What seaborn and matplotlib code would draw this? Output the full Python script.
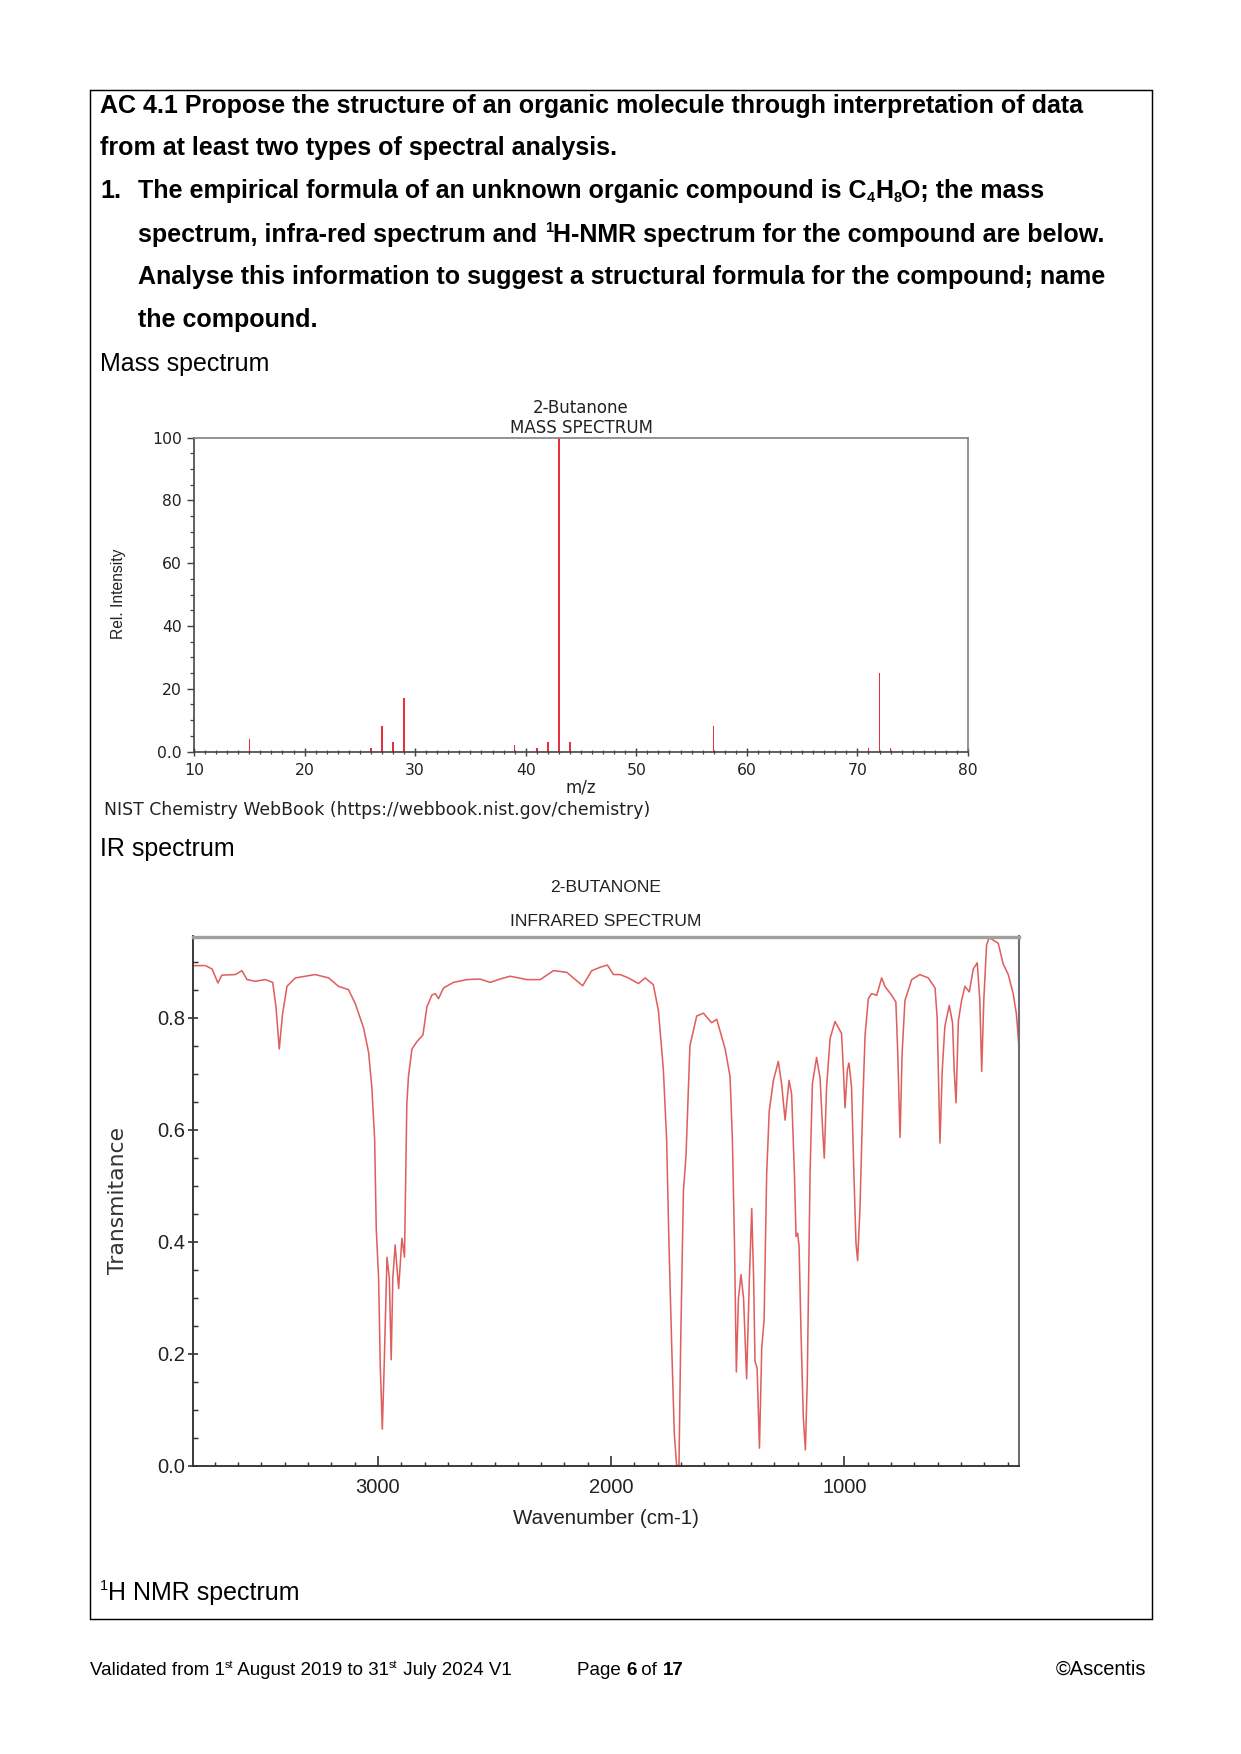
import matplotlib
matplotlib.use("Agg")
import matplotlib.pyplot as plt
import matplotlib.font_manager as fm
from matplotlib.patches import Rectangle
from matplotlib.ticker import MultipleLocator
import pandas as pd
import seaborn as sns

# ---------------- data ----------------
ms_mz = [15, 26, 27, 28, 29, 39, 41, 42, 43, 44, 57, 71, 72, 73]
ms_intensity = [4, 1, 8, 3, 17, 2, 1, 3, 100, 3, 8, 1, 25, 1]
ms_xticks = [10, 20, 30, 40, 50, 60, 70, 80]
ms_xticklabels = ["10", "20", "30", "40", "50", "60", "70", "80"]
ms_yticks = [0, 20, 40, 60, 80, 100]
ms_yticklabels = ["0.0", "20", "40", "60", "80", "100"]

ir_wavenumber = [
    3794, 3740, 3711, 3686, 3669, 3611, 3583, 3561, 3526, 3483, 3451, 3437, 3423, 3409,
    3390, 3354, 3269, 3211, 3169, 3126, 3097, 3061, 3040, 3026, 3014, 3007, 2997, 2990,
    2981, 2973, 2961, 2951, 2943, 2936, 2926, 2911, 2897, 2886, 2876, 2869, 2854, 2833,
    2807, 2790, 2769, 2754, 2740, 2719, 2676, 2619, 2562, 2519, 2476, 2433, 2361, 2304,
    2247, 2190, 2162, 2122, 2083, 2047, 2016, 1990, 1961, 1926, 1883, 1854, 1819, 1797,
    1776, 1762, 1752, 1740, 1729, 1719, 1709, 1702, 1690, 1679, 1662, 1633, 1604, 1569,
    1547, 1511, 1490, 1480, 1471, 1463, 1454, 1443, 1432, 1419, 1407, 1397, 1389, 1383,
    1374, 1364, 1354, 1344, 1333, 1322, 1304, 1283, 1269, 1254, 1237, 1226, 1214, 1207,
    1200, 1194, 1186, 1176, 1167, 1159, 1147, 1137, 1119, 1104, 1094, 1086, 1076, 1061,
    1040, 1012, 1004, 997, 987, 980, 969, 959, 950, 943, 933, 921, 911, 897, 883, 861,
    840, 826, 797, 779, 771, 761, 752, 740, 711, 676, 640, 611, 602, 590, 580, 569, 550,
    536, 529, 521, 511, 497, 483, 464, 447, 430, 419, 411, 402, 390, 379, 340, 319, 297,
    276, 262, 251]
ir_transmittance = [
    0.893, 0.893, 0.887, 0.862, 0.876, 0.877, 0.884, 0.868, 0.865, 0.868, 0.863, 0.819, 0.744, 0.806,
    0.856, 0.871, 0.877, 0.871, 0.856, 0.850, 0.825, 0.781, 0.738, 0.676, 0.583, 0.422, 0.335, 0.180,
    0.065, 0.180, 0.372, 0.335, 0.189, 0.335, 0.394, 0.316, 0.406, 0.372, 0.645, 0.695, 0.744, 0.757,
    0.769, 0.819, 0.840, 0.843, 0.834, 0.853, 0.863, 0.868, 0.869, 0.863, 0.869, 0.874, 0.868, 0.868,
    0.884, 0.881, 0.871, 0.857, 0.884, 0.890, 0.894, 0.877, 0.877, 0.871, 0.861, 0.871, 0.859, 0.812,
    0.707, 0.583, 0.397, 0.211, 0.056, 0.0, 0.0, 0.211, 0.490, 0.552, 0.750, 0.803, 0.808, 0.791,
    0.797, 0.744, 0.695, 0.583, 0.397, 0.167, 0.298, 0.341, 0.298, 0.155, 0.335, 0.459, 0.335, 0.186,
    0.174, 0.031, 0.211, 0.260, 0.521, 0.633, 0.688, 0.722, 0.682, 0.617, 0.688, 0.664, 0.521, 0.409,
    0.415, 0.391, 0.242, 0.087, 0.028, 0.149, 0.521, 0.682, 0.729, 0.692, 0.608, 0.549, 0.676, 0.763,
    0.793, 0.772, 0.707, 0.639, 0.707, 0.719, 0.676, 0.521, 0.397, 0.366, 0.459, 0.645, 0.769, 0.834, 0.843, 0.840,
    0.871, 0.856, 0.840, 0.828, 0.738, 0.586, 0.738, 0.831, 0.868, 0.877, 0.871, 0.853, 0.800, 0.576, 0.707, 0.784, 0.822,
    0.791, 0.707, 0.648, 0.794, 0.831, 0.856, 0.846, 0.887, 0.898, 0.831, 0.704, 0.831, 0.930, 0.943, 0.933, 0.896, 0.877,
    0.843, 0.806, 0.747]
ir_xticks = [1000, 2000, 3000]
ir_xticklabels = ["1000", "2000", "3000"]
ir_yticks = [0.0, 0.2, 0.4, 0.6, 0.8]
ir_yticklabels = ["0.0", "0.2", "0.4", "0.6", "0.8"]

# ---------------- setup ----------------
sns.set_theme(style="white")
BODY = ["Liberation Sans", "DejaVu Sans"]
plt.rcParams["font.family"] = BODY

names = {f.name for f in fm.fontManager.ttflist}
if "Liberation Sans Narrow" in names:
    NARROW = ["Liberation Sans Narrow", "DejaVu Sans"]
    k = 1.0
else:
    NARROW = ["Liberation Sans", "DejaVu Sans"]
    k = 0.84
WIDE = ["DejaVu Sans"]

W, H, DPI = 1241, 1754, 150
fig = plt.figure(figsize=(W / DPI, H / DPI), dpi=DPI)
fig.patch.set_facecolor("white")
PT = DPI / 72.0


def fx(x):
    return x / W


def fy(y):
    return 1 - y / H


renderer = fig.canvas.get_renderer()


def twidth(s, **kw):
    t1 = fig.text(0, 0, s + "|", **kw)
    w1 = t1.get_window_extent(renderer).width
    t1.remove()
    t2 = fig.text(0, 0, "|", **kw)
    w2 = t2.get_window_extent(renderer).width
    t2.remove()
    return w1 - w2


def rich(x, y, segs, size=12, family=BODY, color="black", align="left"):
    items = []
    total = 0.0
    for s, kind, weight in segs:
        fs = size if kind == "n" else size * 0.58
        if kind == "sub":
            dy = -size * 0.18 * PT
        elif kind == "sup":
            dy = size * 0.40 * PT
        else:
            dy = 0.0
        kw = dict(fontsize=fs, fontweight=weight, family=family, color=color)
        w = twidth(s, **kw)
        items.append((s, dy, kw, w))
        total += w
    cx = x - total if align == "right" else x
    for s, dy, kw, w in items:
        fig.text(fx(cx), fy(y - dy), s, va="baseline", ha="left", **kw)
        cx += w


# ---------------- page text ----------------
fig.add_artist(Rectangle((fx(89.5), fy(1619)), (1151.5 - 89.5) / W, (1619 - 89.5) / H,
                         transform=fig.transFigure, fill=False, lw=0.7, ec="black"))

B = "bold"
N = "normal"
rich(100, 113, [("AC 4.1 Propose the structure of an organic molecule through interpretation of data", "n", B)])
rich(100, 155, [("from at least two types of spectral analysis.", "n", B)])
rich(100, 198, [("1.", "n", B)])
rich(138.5, 198, [("The empirical formula of an unknown organic compound is C", "n", B), ("4", "sub", B),
                  ("H", "n", B), ("8", "sub", B), ("O; the mass", "n", B)])
rich(138.5, 242, [("spectrum, infra-red spectrum and ", "n", B), ("1", "sup", B),
                  ("H-NMR spectrum for the compound are below.", "n", B)])
rich(138.5, 284, [("Analyse this information to suggest a structural formula for the compound; name", "n", B)])
rich(138.5, 327, [("the compound.", "n", B)])
rich(100, 371, [("Mass spectrum", "n", N)])
rich(100, 856, [("IR spectrum", "n", N)])
rich(100, 1600, [("1", "sup", N), ("H NMR spectrum", "n", N)])

rich(89.5, 1675, [("Validated from 1", "n", N), ("st", "sup", N), (" August 2019 to 31", "n", N),
                  ("st", "sup", N), (" July 2024 V1", "n", N)], size=9)
rich(577, 1675, [("Page ", "n", N), ("6", "n", B), (" of ", "n", N), ("17", "n", B)], size=9)
rich(1146, 1675, [("\u00a9Ascentis", "n", N)], size=9.6, align="right")

# ---------------- mass spectrum ----------------
MS_RED = "#e8303c"
ax1 = fig.add_axes([fx(194), fy(751.5), (968 - 194) / W, (751.5 - 437.5) / H])
ms_df = pd.DataFrame({"mz": ms_mz, "intensity": ms_intensity})
sns.barplot(data=ms_df, x="mz", y="intensity", native_scale=True, width=0.14,
            color=MS_RED, saturation=1, linewidth=0, ax=ax1)
ax1.set_xlim(10, 80)
ax1.set_ylim(0, 100)
ax1.set_xlabel("")
ax1.set_ylabel("")
ax1.set_xticks(ms_xticks)
ax1.set_xticklabels(ms_xticklabels)
ax1.set_yticks(ms_yticks)
ax1.set_yticklabels(ms_yticklabels)
ax1.xaxis.set_minor_locator(MultipleLocator(1))
ax1.yaxis.set_minor_locator(MultipleLocator(5))
ax1.tick_params(axis="x", which="major", direction="inout", length=4, width=0.7, pad=3.5,
                colors="#444444", labelcolor="#222222", labelsize=7.5, bottom=True)
ax1.tick_params(axis="x", which="minor", direction="inout", length=2.2, width=0.6,
                colors="#444444", bottom=True)
ax1.tick_params(axis="y", which="major", direction="out", length=3.4, width=0.7, pad=2.5,
                colors="#444444", labelcolor="#222222", labelsize=7.5, left=True)
ax1.tick_params(axis="y", which="minor", direction="out", length=2, width=0.6,
                colors="#444444", left=True)
for lab in ax1.get_xticklabels() + ax1.get_yticklabels():
    lab.set_family(WIDE)
for side in ["left", "bottom"]:
    ax1.spines[side].set_color("#444444")
    ax1.spines[side].set_linewidth(0.8)
for side in ["top", "right"]:
    ax1.spines[side].set_color("#808080")
    ax1.spines[side].set_linewidth(0.8)

fig.text(fx(581), fy(413), "2-Butanone", ha="center", va="baseline", fontsize=8, family=WIDE, color="#222222")
fig.text(fx(581), fy(433), "MASS SPECTRUM", ha="center", va="baseline", fontsize=8, family=WIDE, color="#222222")
fig.text(fx(581), fy(793), "m/z", ha="center", va="baseline", fontsize=8, family=WIDE, color="#222222")
fig.text(fx(118), fy(594), "Rel. Intensity", ha="center", va="center", rotation=90, fontsize=7.5,
         family=BODY, color="#222222")
fig.text(fx(104), fy(815), "NIST Chemistry WebBook (https://webbook.nist.gov/chemistry)", ha="left",
         va="baseline", fontsize=8.3, family=WIDE, color="#222222")

# ---------------- IR spectrum ----------------
IR_RED = "#e05e5e"
ax2 = fig.add_axes([fx(192.5), fy(1465.5), (1019 - 192.5) / W, (1465.5 - 936.5) / H])
ir_df = pd.DataFrame({"wavenumber": ir_wavenumber, "transmittance": ir_transmittance})
sns.lineplot(data=ir_df, x="wavenumber", y="transmittance", sort=False, estimator=None,
             color=IR_RED, linewidth=0.75, ax=ax2)
ax2.set_xlim(3795, 251)
ax2.set_ylim(0, 0.945)
ax2.set_xlabel("")
ax2.set_ylabel("")
ax2.set_xticks(ir_xticks)
ax2.set_xticklabels(ir_xticklabels)
ax2.set_yticks(ir_yticks)
ax2.set_yticklabels(ir_yticklabels)
ax2.xaxis.set_minor_locator(MultipleLocator(100))
ax2.yaxis.set_minor_locator(MultipleLocator(0.05))
ax2.tick_params(axis="x", which="major", direction="in", length=5, width=0.8, pad=6,
                colors="#333333", labelcolor="#222222", labelsize=11.5 * k, bottom=True)
ax2.tick_params(axis="x", which="minor", direction="in", length=2, width=0.7,
                colors="#333333", bottom=True)
ax2.tick_params(axis="y", which="major", direction="inout", length=5, width=0.8, pad=0.8,
                colors="#333333", labelcolor="#222222", labelsize=11.5 * k, left=True)
ax2.tick_params(axis="y", which="minor", direction="in", length=2.4, width=0.7,
                colors="#333333", left=True)
for lab in ax2.get_xticklabels() + ax2.get_yticklabels():
    lab.set_family(NARROW)
for side in ["left", "bottom"]:
    ax2.spines[side].set_color("#333333")
    ax2.spines[side].set_linewidth(0.9)
ax2.spines["top"].set_color("#a0a0a0")
ax2.spines["top"].set_linewidth(1.6)
ax2.spines["right"].set_color("#707070")
ax2.spines["right"].set_linewidth(1.0)

fig.text(fx(606), fy(892), "2-BUTANONE", ha="center", va="baseline", fontsize=10.0 * k, family=NARROW, color="#222222")
fig.text(fx(606), fy(925.5), "INFRARED SPECTRUM", ha="center", va="baseline", fontsize=10.0 * k, family=NARROW,
         color="#222222")
fig.text(fx(606), fy(1524), "Wavenumber (cm-1)", ha="center", va="baseline", fontsize=11.7 * k, family=NARROW,
         color="#222222")
fig.text(fx(118), fy(1201), "Transmitance", ha="center", va="center", rotation=90, fontsize=10.5,
         family=WIDE, color="#333333")

fig.savefig("out.png", dpi=DPI, facecolor="white")
